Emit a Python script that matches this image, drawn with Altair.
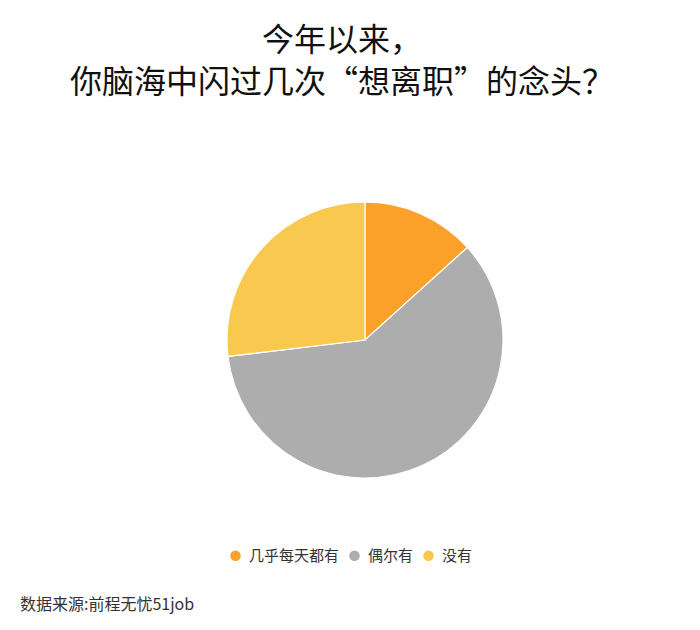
import altair as alt
import pandas as pd

categories = ["几乎每天都有", "偶尔有", "没有"]
values = [13.3, 59.8, 26.9]
colors = ["#FBA028", "#ADADAD", "#F9C84F"]
title_lines = ["今年以来，", "你脑海中闪过几次“想离职”的念头？"]
source_text = ["数据来源:前程无忧51job"]

df = pd.DataFrame({"类别": categories, "值": values, "order": list(range(len(categories)))})
src_df = pd.DataFrame({"t": source_text})

FONT = "Noto Sans CJK SC"

pie = alt.Chart(df).mark_arc(outerRadius=138, stroke="white", strokeWidth=1.2).encode(
    theta=alt.Theta("值:Q", stack=True),
    order=alt.Order("order:Q"),
    color=alt.Color(
        "类别:N",
        scale=alt.Scale(domain=categories, range=colors),
        sort=categories,
        legend=alt.Legend(
            title=None,
            orient="none",
            legendX=220,
            legendY=440,
            direction="horizontal",
            symbolType="circle",
            symbolSize=110,
            symbolStrokeWidth=0,
            labelFont=FONT,
            labelFontSize=15,
            labelColor="#333333",
            labelOffset=6,
            columnPadding=7,
        ),
    ),
    x=alt.value(357),
    y=alt.value(232),
)

src = alt.Chart(src_df).mark_text(
    align="left", baseline="middle", font=FONT, fontSize=16, color="#333333"
).encode(text="t:N", x=alt.value(12), y=alt.value(497))

chart = alt.layer(pie, src).properties(
    width=684,
    height=514,
    autosize=alt.AutoSizeParams(type="none"),
    padding={"top": 100, "left": 0, "right": 0, "bottom": 0},
    title=alt.TitleParams(
        text=title_lines,
        font=FONT,
        fontSize=32,
        fontWeight="normal",
        color="#111111",
        anchor="middle",
        lineHeight=42,
        offset=8,
        dx=-8,
    ),
).configure_view(stroke=None)

chart.save("out.html", embed_options={"renderer": "svg", "actions": False})
